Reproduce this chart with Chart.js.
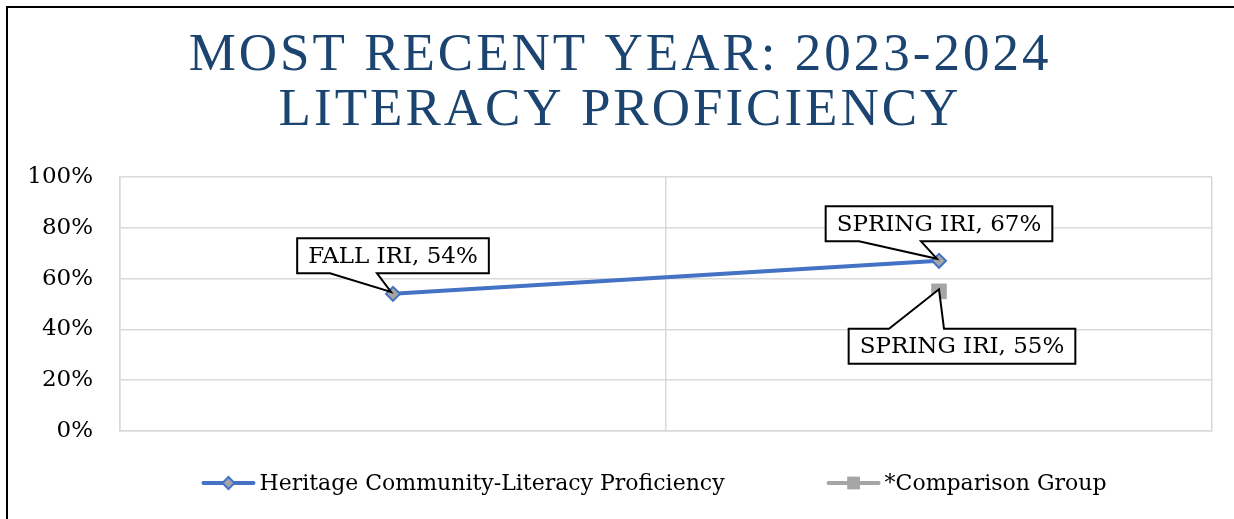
<!DOCTYPE html>
<html lang="en">
<head>
<meta charset="utf-8" />
<title>Most Recent Year: 2023-2024 Literacy Proficiency</title>
<script src="https://cdn.jsdelivr.net/npm/chart.js@4.4.1/dist/chart.umd.min.js"></script>
<style>
  html, body { margin: 0; padding: 0; background: #fff; }
  #wrap { position: relative; width: 1234px; height: 519px; }
</style>
</head>
<body>
<div id="wrap"><canvas id="chart" width="1234" height="519"></canvas></div>
<script>
// chart values
const TITLE_LINES = ['MOST RECENT YEAR: 2023-2024', 'LITERACY PROFICIENCY']
const CATEGORIES = ['FALL IRI', 'SPRING IRI']
const SERIES_NAMES = ['Heritage Community-Literacy Proficiency', '*Comparison Group']
const HERITAGE = [54, 67]
const COMPARISON = [null, 55]
const Y_TICKS = [0, 20, 40, 60, 80, 100]

const BLUE = '#4472C4'
const GRAY = '#A5A5A5'
const TITLE_COLOR = '#1B4470'
const SERIF = "'DejaVu Serif', serif"
const TITLE_FONT = "53px 'Liberation Serif', serif"
const CALLOUT_FONT = '23px ' + SERIF
const LEGEND_FONT = '22px ' + SERIF

// callout boxes: offset of the box centre from its point, wedge base (relative to box centre), tip offset
const CALLOUTS = [
  { ds: 0, i: 0, dx: 0, dy: -38, side: 'bottom', base: [-63, -16], tip: [-2, -2] },
  { ds: 0, i: 1, dx: 0, dy: -37, side: 'bottom', base: [-80, -18], tip: [-2, -2] },
  { ds: 1, i: 1, dx: 23, dy: 55, side: 'top', base: [-73, -18], tip: [0, -2] },
]

const titlePlugin = {
  id: 'titleText',
  beforeDraw(chart) {
    const ctx = chart.ctx
    ctx.save()
    ctx.font = TITLE_FONT
    ctx.letterSpacing = '3px'
    ctx.fillStyle = TITLE_COLOR
    ctx.textAlign = 'center'
    ctx.textBaseline = 'alphabetic'
    TITLE_LINES.forEach((line, k) => ctx.fillText(line, 620, 70 + k * 55))
    ctx.restore()
  },
}

// outer frame: top and left edges only
const framePlugin = {
  id: 'frame',
  afterDraw(chart) {
    const ctx = chart.ctx
    ctx.save()
    ctx.strokeStyle = '#000'
    ctx.lineWidth = 2
    ctx.beginPath()
    ctx.moveTo(7, 519); ctx.lineTo(7, 7); ctx.lineTo(1234, 7)
    ctx.stroke()
    ctx.restore()
  },
}

function drawCallout(ctx, px, py, text, c) {
  ctx.font = CALLOUT_FONT
  const w = ctx.measureText(text).width + 22
  const h = 35
  const cx = px + c.dx, cy = py + c.dy
  const l = cx - w / 2, r = cx + w / 2, t = cy - h / 2, b = cy + h / 2
  const tx = px + c.tip[0], ty = py + c.tip[1]
  ctx.beginPath()
  if (c.side === 'bottom') {
    ctx.moveTo(l, t); ctx.lineTo(r, t); ctx.lineTo(r, b)
    ctx.lineTo(cx + c.base[1], b); ctx.lineTo(tx, ty); ctx.lineTo(cx + c.base[0], b)
    ctx.lineTo(l, b)
  } else {
    ctx.moveTo(l, b); ctx.lineTo(l, t)
    ctx.lineTo(cx + c.base[0], t); ctx.lineTo(tx, ty); ctx.lineTo(cx + c.base[1], t)
    ctx.lineTo(r, t); ctx.lineTo(r, b)
  }
  ctx.closePath()
  ctx.fillStyle = '#fff'
  ctx.fill()
  ctx.strokeStyle = '#000'
  ctx.lineWidth = 2
  ctx.lineJoin = 'miter'
  ctx.stroke()
  ctx.fillStyle = '#000'
  ctx.textAlign = 'center'
  ctx.textBaseline = 'middle'
  ctx.fillText(text, cx, cy + 1)
}

const calloutPlugin = {
  id: 'callouts',
  afterDatasetsDraw(chart) {
    const ctx = chart.ctx
    ctx.save()
    CALLOUTS.forEach((c) => {
      const el = chart.getDatasetMeta(c.ds).data[c.i]
      const v = chart.data.datasets[c.ds].data[c.i]
      if (!el || v == null) return
      drawCallout(ctx, el.x, el.y, `${chart.data.labels[c.i]}, ${v}%`, c)
    })
    ctx.restore()
  },
}

// legend: line sample with marker, then name
const legendPlugin = {
  id: 'lineLegend',
  afterDraw(chart) {
    const ctx = chart.ctx
    const sampleW = 54, gap = 4, itemGap = 102, cy = 483
    ctx.save()
    ctx.font = LEGEND_FONT
    const items = chart.data.datasets.map((ds) => ({ ds, tw: ctx.measureText(ds.label).width }))
    const total = items.reduce((s, it) => s + sampleW + gap + it.tw, 0) + itemGap * (items.length - 1)
    let x = 654 - total / 2
    items.forEach(({ ds, tw }) => {
      ctx.strokeStyle = ds.borderColor
      ctx.lineWidth = 4
      ctx.lineCap = 'round'
      ctx.beginPath()
      ctx.moveTo(x + 2, cy); ctx.lineTo(x + sampleW - 2, cy)
      ctx.stroke()
      ctx.fillStyle = ds.pointBackgroundColor
      ctx.strokeStyle = ds.pointBorderColor
      ctx.lineWidth = ds.pointBorderWidth
      Chart.helpers.drawPoint(ctx, { pointStyle: ds.pointStyle, radius: ds.legendRadius, rotation: 0, borderWidth: ds.pointBorderWidth }, x + sampleW / 2, cy)
      ctx.fillStyle = '#000'
      ctx.textAlign = 'left'
      ctx.textBaseline = 'middle'
      ctx.fillText(ds.label, x + sampleW + gap, cy + 1)
      x += sampleW + gap + tw + itemGap
    })
    ctx.restore()
  },
}

new Chart(document.getElementById('chart'), {
  type: 'line',
  data: {
    labels: CATEGORIES,
    datasets: [
      {
        label: SERIES_NAMES[0],
        data: HERITAGE,
        borderColor: BLUE,
        borderWidth: 4,
        tension: 0,
        pointStyle: 'rectRot',
        pointRadius: 7,
        legendRadius: 6,
        pointBackgroundColor: GRAY,
        pointBorderColor: BLUE,
        pointBorderWidth: 2,
      },
      {
        label: SERIES_NAMES[1],
        data: COMPARISON,
        borderColor: GRAY,
        borderWidth: 4,
        showLine: false,
        pointStyle: 'rect',
        pointRadius: 11,
        legendRadius: 9,
        pointBackgroundColor: GRAY,
        pointBorderColor: GRAY,
        pointBorderWidth: 0,
      },
    ],
  },
  options: {
    responsive: false,
    animation: false,
    layout: { padding: { top: 177, left: 0, right: 22, bottom: 88 } },
    plugins: {
      legend: { display: false },
      title: { display: false },
      tooltip: { enabled: false },
    },
    scales: {
      x: {
        offset: true,
        grid: { offset: true, color: '#D9D9D9', lineWidth: 1.5, drawTicks: false },
        border: { color: '#D9D9D9', width: 1.5 },
        ticks: { display: false },
        afterFit: (s) => { s.height = 0 },
      },
      y: {
        min: 0,
        max: 100,
        grid: { color: '#D9D9D9', lineWidth: 1.5, drawTicks: false },
        border: { color: '#D9D9D9', width: 1.5 },
        afterBuildTicks: (s) => { s.ticks = Y_TICKS.map((v) => ({ value: v })) },
        ticks: {
          padding: 27,
          color: '#000',
          font: { family: SERIF, size: 23 },
          callback: (v) => v + '%',
        },
        afterFit: (s) => { s.width = 120 },
      },
    },
  },
  plugins: [titlePlugin, calloutPlugin, legendPlugin, framePlugin],
})
</script>
</body>
</html>
